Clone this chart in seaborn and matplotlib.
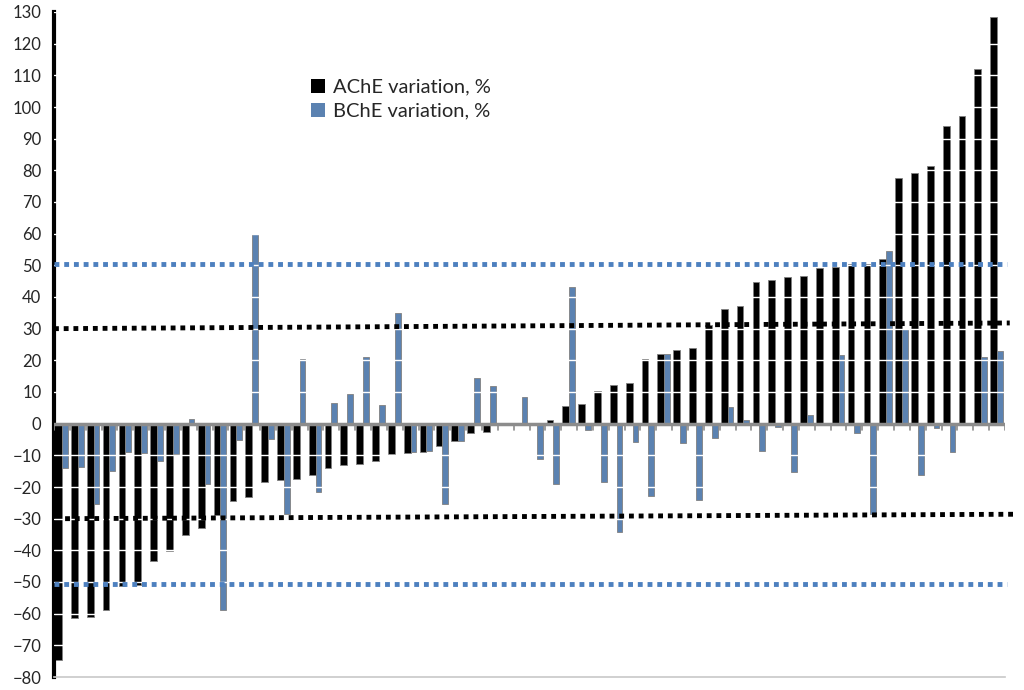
import numpy as np
import pandas as pd
import seaborn as sns
import matplotlib.pyplot as plt

sns.set_style('white')
plt.rcParams['font.family'] = ['Lato', 'DejaVu Sans']

# values, one pair per sample (sorted by AChE)
ache = [-74.7, -61.3, -60.9, -58.8, -51.4, -51.1, -43.5, -40.1, -35.3, -33.0,
        -28.7, -24.5, -23.1, -18.3, -17.8, -17.6, -16.3, -14.0, -12.9, -12.6,
        -11.7, -9.6, -9.2, -9.0, -7.2, -5.4, -3.1, -2.7, -0.3, 0.0,
        -0.5, 1.0, 5.6, 6.3, 10.3, 12.1, 12.9, 20.5, 21.9, 23.4,
        24.0, 31.1, 36.2, 37.3, 44.6, 45.4, 46.4, 46.6, 49.1, 49.5,
        50.5, 50.5, 51.9, 77.5, 79.0, 81.5, 94.0, 97.0, 112.0, 128.5]
bche = [-14.1, -13.7, -25.5, -14.8, -9.1, -9.2, -11.7, -9.5, 1.5, -19.0,
        -58.8, -5.2, 60.0, -4.9, -28.5, 20.5, -21.7, 6.5, 9.5, 21.0,
        6.0, 35.0, -9.0, -8.6, -25.3, -5.6, 14.5, 12.0, 0.0, 8.5,
        -11.3, -19.0, 43.0, -2.0, -18.5, -34.1, -5.9, -22.7, 21.9, -6.1,
        -24.1, -4.5, 5.4, 1.0, -8.6, -1.0, -15.4, 2.7, 0.0, 21.6,
        -3.0, -28.4, 54.4, 30.0, -16.3, -1.5, -8.9, 0.0, 21.0, 23.0]
series = ['AChE variation, %', 'BChE variation, %']
colors = ['#000000', '#4d80bf']

n = len(ache)
df = pd.DataFrame({
    'sample': list(range(n)) * 2,
    'value': ache + bche,
    'series': [series[0]] * n + [series[1]] * n,
})

fig = plt.figure(figsize=(10.24, 6.9), dpi=100)
ax = fig.add_axes([54 / 1024, 1 - 677 / 690, (1005 - 54) / 1024, (677 - 12) / 690])

sns.barplot(data=df, x='sample', y='value', hue='series', palette=colors,
            width=0.85, ax=ax, zorder=2, edgecolor='#808080', linewidth=0.6)

# narrow the blue bars a bit, like the original
for bar in ax.containers[1]:
    w = bar.get_width()
    bar.set_width(w * 0.85)

ax.set_xlim(-0.5, n - 0.5)
ax.set_ylim(-80, 130)
ax.set_yticks(np.arange(-80, 131, 10))
ax.set_xticks([])
ax.set_xlabel('')
ax.set_ylabel('')
ax.tick_params(axis='y', direction='out', length=5, width=2.5, color='black',
               labelsize=12, pad=4)

for s in ['top', 'right']:
    ax.spines[s].set_visible(False)
ax.spines['left'].set_linewidth(3)
ax.spines['left'].set_color('black')
ax.spines['bottom'].set_color('#c8c8c8')
ax.spines['bottom'].set_linewidth(1.2)

# white gridlines showing across the bars
for v in np.arange(-70, 131, 10):
    if v != 0:
        ax.axhline(v, color='white', lw=1, zorder=3)

# zero axis with category ticks
ax.axhline(0, color='#8c8c8c', lw=2.5, zorder=4)
for b in np.arange(-0.5, n, 1):
    ax.plot([b, b], [0, -2], color='#8c8c8c', lw=1.2, zorder=4)

# threshold lines
dots = dict(ls=(0, (1, 1)), lw=3.5, zorder=5, clip_on=False,
            solid_capstyle='butt', dash_capstyle='butt')
ax.plot([-0.5, 59.6], [50.5, 50.5], color='#4d80bf', **dots)
ax.plot([-0.5, 59.6], [-50.5, -50.5], color='#4d80bf', **dots)
ax.plot([-0.5, 59.8], [30.0, 31.8], color='black', **dots)
ax.plot([0.2, 60.3], [-30.0, -28.6], color='black', **dots)

leg = ax.legend(loc='upper left', bbox_to_anchor=(0.262, 0.912), frameon=False,
                fontsize=14.5, handlelength=0.7, handleheight=0.7,
                handletextpad=0.4, labelspacing=0.35, borderaxespad=0)
for h in leg.legend_handles:
    h.set_edgecolor('none')

fig.savefig('out.png', dpi=100)
